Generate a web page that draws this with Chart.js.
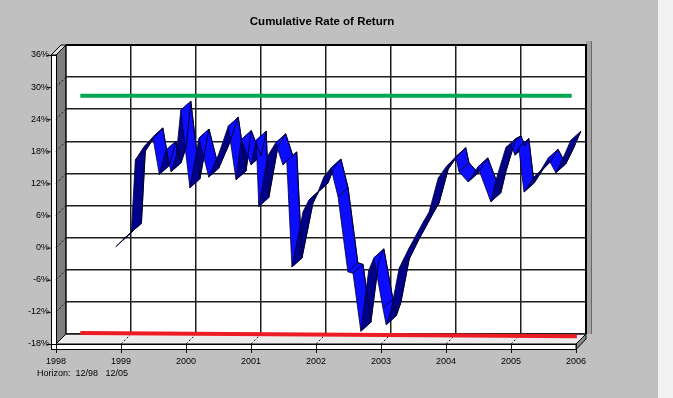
<!DOCTYPE html>
<html>
<head>
<meta charset="utf-8">
<script src="https://cdn.jsdelivr.net/npm/chart.js@4.4.1/dist/chart.umd.min.js"></script>
<style>
  html, body { margin: 0; padding: 0; background: #f2f2f2; }
  #wrap { position: absolute; left: 0; top: 0; width: 673px; height: 398px; }
</style>
</head>
<body>
<div id="wrap"><canvas id="c" width="673" height="398"></canvas></div>
<script>
// Cumulative rate of return, monthly turning points (decimal year, percent)
const years = [
  1998.92, 1999.03, 1999.16, 1999.22, 1999.35, 1999.49, 1999.59, 1999.69, 1999.77, 1999.85,
  1999.92, 2000.06, 2000.20, 2000.35, 2000.51, 2000.65, 2000.77, 2000.85, 2001.00, 2001.08,
  2001.12, 2001.26, 2001.38, 2001.49, 2001.55, 2001.63, 2001.80, 2001.89, 2002.03, 2002.12,
  2002.23, 2002.34, 2002.49, 2002.57, 2002.69, 2002.81, 2002.89, 2003.03, 2003.08, 2003.15,
  2003.28, 2003.43, 2003.65, 2003.74, 2003.88, 2004.00, 2004.15, 2004.20, 2004.34, 2004.49,
  2004.69, 2004.77, 2004.92, 2005.00, 2005.06, 2005.12, 2005.20, 2005.34, 2005.46, 2005.57,
  2005.69, 2005.80, 2005.92
];
const returns = [
  0.0, 1.3, 2.7, 16.2, 18.6, 20.5, 13.5, 18.0, 14.0, 17.0,
  25.5, 11.0, 20.3, 13.0, 17.5, 22.5, 12.5, 20.0, 15.3, 19.9,
  7.5, 17.0, 19.4, 15.3, 16.0, -3.8, 6.5, 8.7, 10.2, 13.0,
  14.7, 9.3, -4.7, -5.0, -15.8, -4.5, -2.1, -11.5, -14.6, -12.2,
  -4.0, -0.3, 4.6, 6.5, 12.8, 14.9, 16.8, 14.0, 12.1, 14.9,
  8.4, 12.5, 18.5, 19.0, 17.1, 18.5, 10.2, 12.8, 14.3, 16.5,
  13.8, 16.5, 19.9
];
// Upper and lower reference bands
const upperX = [1998.22, 2005.78];
const upperY = [26.5, 26.5];
const lowerX = [1998.22, 2005.86];
const lowerY = [-17.8, -18.4];
// Axis ticks
const yTicks = [-18, -12, -6, 0, 6, 12, 18, 24, 30, 36];
const xTicks = [1998, 1999, 2000, 2001, 2002, 2003, 2004, 2005, 2006];
const titleText = 'Cumulative Rate of Return';
const horizonText = 'Horizon:  12/98   12/05';

const FONT = "'Liberation Sans Narrow', 'Liberation Sans', Arial, sans-serif";
const DEPTH_X = 10, DEPTH_Y = 10;   // depth of the 3D box
const RIB_X = 10, RIB_Y = 9;        // depth of the ribbon

const toPts = (xs, ys) => xs.map((x, i) => ({ x: x, y: ys[i] }));

// Background, walls and floor of the box
const boxPlugin = {
  id: 'box',
  beforeDraw(chart) {
    const ctx = chart.ctx, ca = chart.chartArea;
    const D = DEPTH_X, E = DEPTH_Y;
    ctx.save();
    ctx.fillStyle = '#c0c0c0';
    ctx.fillRect(0, 0, 658, 398);
    ctx.fillStyle = '#f2f2f2';
    ctx.fillRect(658, 0, 15, 398);

    // back plane
    ctx.fillStyle = '#ffffff';
    ctx.fillRect(ca.left, ca.top, ca.right - ca.left, ca.bottom - ca.top);

    // right edge thickness of back plane
    ctx.fillStyle = '#a4a4a4';
    ctx.fillRect(ca.right, ca.top - 4, 5, ca.bottom - ca.top + 4);
    ctx.strokeStyle = '#6a6a6a';
    ctx.lineWidth = 1;
    ctx.beginPath();
    ctx.moveTo(ca.right + 5.5, ca.top - 4); ctx.lineTo(ca.right + 5.5, ca.bottom);
    ctx.stroke();

    ctx.strokeStyle = '#000';
    ctx.lineWidth = 1;
    // left wall
    ctx.beginPath();
    ctx.moveTo(ca.left, ca.top); ctx.lineTo(ca.left, ca.bottom);
    ctx.lineTo(ca.left - D, ca.bottom + E); ctx.lineTo(ca.left - D, ca.top + E);
    ctx.closePath();
    ctx.fillStyle = '#7e7e7e';
    ctx.fill(); ctx.stroke();

    // floor
    ctx.beginPath();
    ctx.moveTo(ca.left, ca.bottom); ctx.lineTo(ca.right, ca.bottom);
    ctx.lineTo(ca.right - D, ca.bottom + E); ctx.lineTo(ca.left - D, ca.bottom + E);
    ctx.closePath();
    ctx.fillStyle = '#ececec';
    ctx.fill(); ctx.stroke();

    // left axis slab: top face and front
    ctx.beginPath();
    ctx.moveTo(ca.left - D - 5, ca.top + E); ctx.lineTo(ca.left - D, ca.top + E);
    ctx.lineTo(ca.left, ca.top); ctx.lineTo(ca.left - 5, ca.top);
    ctx.closePath();
    ctx.fillStyle = '#dcdcdc';
    ctx.fill(); ctx.stroke();
    ctx.fillStyle = '#ffffff';
    ctx.fillRect(ca.left - D - 5, ca.top + E, 5, ca.bottom - ca.top + 5);
    ctx.strokeRect(ca.left - D - 5 + 0.5, ca.top + E + 0.5, 5, ca.bottom - ca.top + 5);

    // bottom axis slab: front and right end face
    ctx.fillStyle = '#ffffff';
    ctx.fillRect(ca.left - D - 5, ca.bottom + E, ca.right - ca.left + 5, 5);
    ctx.strokeRect(ca.left - D - 5 + 0.5, ca.bottom + E + 0.5, ca.right - ca.left + 5, 5);
    ctx.beginPath();
    ctx.moveTo(ca.right - D, ca.bottom + E); ctx.lineTo(ca.right, ca.bottom);
    ctx.lineTo(ca.right, ca.bottom + 5); ctx.lineTo(ca.right - D, ca.bottom + E + 5.5);
    ctx.closePath();
    ctx.fillStyle = '#8a8a8a';
    ctx.fill(); ctx.stroke();
    ctx.restore();
  },
  beforeDatasetsDraw(chart) {
    const ctx = chart.ctx, ca = chart.chartArea;
    const xs = chart.scales.x, ys = chart.scales.y;
    const D = DEPTH_X, E = DEPTH_Y;
    ctx.save();
    ctx.strokeStyle = '#111';
    ctx.lineWidth = 1;
    // depth ticks on the wall
    yTicks.forEach(v => {
      const yb = ys.getPixelForValue(v);
      ctx.setLineDash([2, 2]);
      ctx.beginPath(); ctx.moveTo(ca.left - D, yb + E); ctx.lineTo(ca.left, yb); ctx.stroke();
      ctx.setLineDash([]);
      ctx.beginPath(); ctx.moveTo(ca.left - D - 9, yb + E + 0.5); ctx.lineTo(ca.left - D - 5, yb + E + 0.5); ctx.stroke();
    });
    // depth ticks on the floor
    xTicks.forEach(v => {
      const xb = xs.getPixelForValue(v);
      ctx.setLineDash([2, 2]);
      ctx.beginPath(); ctx.moveTo(xb, ca.bottom); ctx.lineTo(xb - D, ca.bottom + E); ctx.stroke();
      ctx.setLineDash([]);
      ctx.beginPath(); ctx.moveTo(xb - D + 0.5, ca.bottom + E); ctx.lineTo(xb - D + 0.5, ca.bottom + E + 9); ctx.stroke();
    });
    // frame of the back plane
    ctx.strokeStyle = '#000';
    ctx.lineWidth = 2;
    ctx.beginPath();
    ctx.moveTo(ca.left, ca.top); ctx.lineTo(ca.right, ca.top); ctx.lineTo(ca.right, ca.bottom);
    ctx.stroke();

    // ribbon for the return series
    const pts = chart.getDatasetMeta(2).data;
    ctx.lineJoin = 'round';
    ctx.lineWidth = 0.8;
    for (let i = 0; i < pts.length - 1; i++) {
      const a = pts[i], b = pts[i + 1];
      const sx = b.x - a.x, sy = b.y - a.y;
      const cross = sx * (-RIB_Y) - sy * RIB_X;
      ctx.beginPath();
      ctx.moveTo(a.x, a.y); ctx.lineTo(b.x, b.y);
      ctx.lineTo(b.x - RIB_X, b.y + RIB_Y); ctx.lineTo(a.x - RIB_X, a.y + RIB_Y);
      ctx.closePath();
      ctx.fillStyle = cross < 0 ? '#0c0cff' : '#000088';
      ctx.fill();
      ctx.strokeStyle = '#00003a';
      ctx.stroke();
    }
    ctx.restore();
  },
  afterDraw(chart) {
    const ctx = chart.ctx;
    ctx.save();
    ctx.fillStyle = '#000';
    ctx.textBaseline = 'middle';
    ctx.textAlign = 'center';
    ctx.font = "bold 11.5px 'Liberation Sans', Arial, sans-serif";
    ctx.fillText(titleText, 322, 22);
    ctx.textAlign = 'left';
    ctx.font = '9px ' + FONT;
    ctx.fillText(horizonText, 37, 374);
    ctx.restore();
  }
};

new Chart(document.getElementById('c'), {
  type: 'line',
  data: {
    datasets: [
      {
        label: 'Upper',
        data: toPts(upperX, upperY),
        borderColor: '#00a651',
        borderWidth: 4,
        pointRadius: 0,
        borderCapStyle: 'butt',
        clip: false
      },
      {
        label: 'Lower',
        data: toPts(lowerX, lowerY),
        borderColor: '#ec1c24',
        borderWidth: 4,
        pointRadius: 0,
        borderCapStyle: 'butt',
        clip: false
      },
      {
        label: 'Cumulative Return',
        data: toPts(years, returns),
        borderColor: '#00003a',
        borderWidth: 1,
        pointRadius: 0,
        tension: 0,
        clip: false
      }
    ]
  },
  options: {
    responsive: false,
    animation: false,
    devicePixelRatio: 1,
    layout: { padding: { top: 45, right: 87, bottom: 0, left: 0 } },
    plugins: {
      legend: { display: false },
      title: { display: false },
      tooltip: { enabled: false }
    },
    scales: {
      x: {
        type: 'linear',
        min: 1998,
        max: 2006,
        afterBuildTicks: s => { s.ticks = xTicks.map(v => ({ value: v })); },
        afterFit: s => { s.height = 64; },
        border: { display: false },
        grid: { color: '#1e1e1e', lineWidth: 1.5, drawTicks: false },
        ticks: {
          callback: v => String(v),
          labelOffset: -10,
          padding: 22,
          maxRotation: 0,
          autoSkip: false,
          color: '#000',
          font: { family: FONT, size: 9 }
        }
      },
      y: {
        type: 'linear',
        min: -18,
        max: 36,
        afterBuildTicks: s => { s.ticks = yTicks.map(v => ({ value: v })); },
        afterFit: s => { s.width = 66; },
        border: { display: false },
        grid: { color: '#1e1e1e', lineWidth: 1.5, drawTicks: false },
        ticks: {
          callback: v => v + '%',
          labelOffset: 10,
          padding: 17,
          color: '#000',
          font: { family: FONT, size: 9 }
        }
      }
    }
  },
  plugins: [boxPlugin]
});
</script>
</body>
</html>
